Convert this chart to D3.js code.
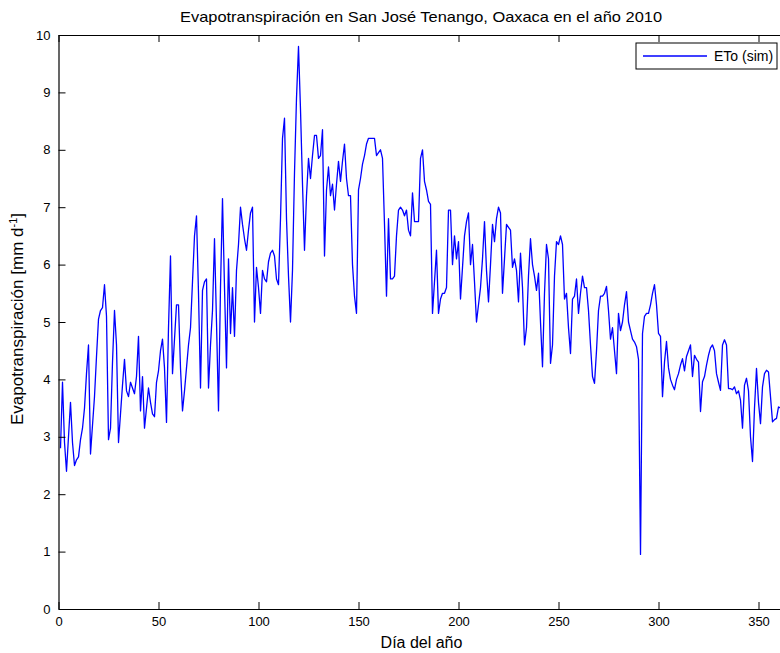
<!DOCTYPE html>
<html>
<head>
<meta charset="utf-8">
<script src="https://cdn.jsdelivr.net/npm/d3@7"></script>
<style>
  html, body { margin: 0; padding: 0; background: #fff; }
  svg { display: block; font-family: "Liberation Sans", Arial, sans-serif; }
</style>
</head>
<body>
<svg id="chart" width="780" height="653"></svg>
<script>
const titleText = "Evapotranspiración en San José Tenango, Oaxaca en el año 2010";
const xLabel = "Día del año";
const yLabelMain = "Evapotranspiración [mm d";
const yLabelSup = "-1";
const seriesName = "ETo (sim)";
const xTicks = [0, 50, 100, 150, 200, 250, 300, 350];
const yTicks = [0, 1, 2, 3, 4, 5, 6, 7, 8, 9, 10];

// Daily simulated ETo values, day 1..365
const eto = [
  2.8, 3.95, 2.9, 2.4, 3.0, 3.6, 2.9, 2.5, 2.6, 2.65,
  2.95, 3.15, 3.5, 4.1, 4.6, 2.7, 3.2, 3.7, 4.4, 5.05,
  5.2, 5.25, 5.65, 5.1, 2.95, 3.15, 4.3, 5.2, 4.6, 2.9,
  3.4, 3.9, 4.35, 3.8, 3.7, 3.95, 3.85, 3.75, 4.05, 4.75,
  3.45, 4.05, 3.15, 3.5, 3.85, 3.6, 3.4, 3.35, 3.95, 4.15,
  4.5, 4.7, 4.2, 3.25, 4.9, 6.15, 4.1, 4.7, 5.3, 5.3,
  4.2, 3.45, 3.8, 4.2, 4.6, 4.9, 5.7, 6.5, 6.85, 5.5,
  3.85, 5.55, 5.7, 5.75, 3.85, 4.6, 5.2, 6.45, 5.0, 3.45,
  5.6, 7.15, 5.6, 4.2, 6.1, 4.8, 5.6, 4.75, 5.9, 6.35,
  7.0, 6.7, 6.45, 6.25, 6.6, 6.9, 7.0, 5.0, 5.95, 5.6,
  5.15, 5.9, 5.75, 5.7, 6.05, 6.2, 6.25, 6.15, 5.75, 5.65,
  6.8, 8.2, 8.55, 6.8, 5.8, 5.0, 5.9, 7.6, 8.9, 9.8,
  8.7, 7.4, 6.25, 7.2, 7.85, 7.5, 7.9, 8.25, 8.25, 7.85,
  7.9, 8.35, 6.15, 7.3, 7.7, 7.2, 7.4, 6.95, 7.4, 7.8,
  7.45, 7.8, 8.1, 7.5, 7.2, 7.2, 6.0, 5.45, 5.15, 7.3,
  7.5, 7.75, 7.9, 8.1, 8.2, 8.2, 8.2, 8.2, 7.9, 7.95,
  8.0, 7.85, 6.7, 5.45, 6.8, 5.75, 5.75, 5.8, 6.5, 6.95,
  7.0, 6.95, 6.85, 6.95, 6.6, 6.5, 7.25, 6.75, 6.75, 6.75,
  7.85, 8.0, 7.45, 7.3, 7.1, 7.05, 5.15, 5.7, 6.25, 5.15,
  5.4, 5.5, 5.5, 5.6, 6.95, 6.95, 6.0, 6.5, 6.1, 6.4,
  5.4, 5.95, 6.5, 6.75, 6.9, 6.0, 6.35, 5.7, 5.0, 5.3,
  5.6, 6.1, 6.75, 5.9, 5.35, 6.0, 6.7, 6.4, 6.8, 7.0,
  6.9, 5.5, 6.1, 6.7, 6.65, 6.6, 5.95, 6.1, 5.9, 5.35,
  6.2, 5.6, 4.6, 4.9, 5.8, 6.45, 6.0, 5.8, 5.55, 5.85,
  5.0, 4.22, 5.5, 6.35, 6.1, 4.28, 4.6, 5.8, 6.4, 6.35,
  6.5, 6.35, 5.4, 5.5, 4.9, 4.45, 5.4, 5.45, 5.75, 5.15,
  5.5, 5.8, 5.6, 5.6, 5.2, 4.6, 4.05, 3.93, 4.5, 5.2,
  5.45, 5.45, 5.5, 5.62, 5.2, 4.7, 4.9, 4.5, 4.1, 5.15,
  4.85, 5.0, 5.3, 5.53, 5.0, 4.85, 4.7, 4.65, 4.57, 4.35,
  0.95, 4.8, 5.1, 5.15, 5.15, 5.3, 5.5, 5.65, 5.3, 4.8,
  4.75, 3.7, 4.3, 4.66, 4.2, 4.0, 3.9, 3.82, 4.0, 4.1,
  4.25, 4.36, 4.15, 4.4, 4.5, 4.6, 4.05, 4.42, 4.35, 4.3,
  3.44, 3.96, 4.05, 4.25, 4.42, 4.55, 4.6, 4.5, 4.1, 3.95,
  3.81, 4.6, 4.69, 4.6, 3.84, 3.84, 3.82, 3.87, 3.75, 3.8,
  3.64, 3.15, 3.9, 4.02, 3.8, 3.0, 2.57, 3.5, 4.19, 3.6,
  3.23, 3.87, 4.1, 4.16, 4.13, 3.7, 3.26, 3.3, 3.32, 3.52,
  3.5, 3.55, 3.6, 3.55, 3.5
];
const days = eto.map((_, i) => i + 1);

const svg = d3.select("#chart");
const margin = { left: 58.5, top: 35, bottom: 609, right: 788.5 };

const x = d3.scaleLinear().domain([0, 365]).range([margin.left, margin.right]);
const y = d3.scaleLinear().domain([0, 10]).range([margin.bottom, margin.top]);

const fontSize = 13;
const labelSize = 16;
const tickLen = 7;

// Data line (clipped to axes)
svg.append("clipPath").attr("id", "plotclip")
  .append("rect")
  .attr("x", margin.left).attr("y", margin.top)
  .attr("width", margin.right - margin.left).attr("height", margin.bottom - margin.top);

const line = d3.line().x((d, i) => x(days[i])).y(d => y(d));
svg.append("path")
  .datum(eto)
  .attr("clip-path", "url(#plotclip)")
  .attr("fill", "none")
  .attr("stroke", "#0000ff")
  .attr("stroke-width", 1.3)
  .attr("stroke-linejoin", "round")
  .attr("d", line);

// Axes (MATLAB style: box with inward ticks)
const axBottom = d3.axisBottom(x).tickValues(xTicks).tickSizeInner(-tickLen).tickSizeOuter(0).tickPadding(8).tickFormat(d3.format("d"));
const axTop = d3.axisTop(x).tickValues(xTicks).tickSizeInner(-tickLen).tickSizeOuter(0).tickFormat("");
const axLeft = d3.axisLeft(y).tickValues(yTicks).tickSizeInner(-tickLen).tickSizeOuter(0).tickPadding(8).tickFormat(d3.format("d"));
const axRight = d3.axisRight(y).tickValues(yTicks).tickSizeInner(-tickLen).tickSizeOuter(0).tickFormat("");

function style(g) {
  g.select(".domain").attr("stroke", "#000").attr("stroke-width", 1.2);
  g.selectAll(".tick line").attr("stroke", "#000").attr("stroke-width", 1);
  g.selectAll(".tick text").attr("fill", "#000").attr("font-size", fontSize)
    .attr("font-family", "Liberation Sans, Arial, sans-serif");
}

svg.append("g").attr("transform", `translate(0,${margin.bottom})`).call(axBottom).call(style);
svg.append("g").attr("transform", `translate(0,${margin.top})`).call(axTop).call(style);
svg.append("g").attr("transform", `translate(${margin.left},0)`).call(axLeft).call(style);
svg.append("g").attr("transform", `translate(${margin.right},0)`).call(axRight).call(style);

// Title
svg.append("text")
  .attr("x", 421).attr("y", 22)
  .attr("text-anchor", "middle")
  .attr("font-size", 15)
  .attr("textLength", 482)
  .attr("lengthAdjust", "spacingAndGlyphs")
  .attr("fill", "#000")
  .text(titleText);

// X label
svg.append("text")
  .attr("x", 421.5).attr("y", 648)
  .attr("text-anchor", "middle")
  .attr("font-size", labelSize)
  .attr("fill", "#000")
  .text(xLabel);

// Y label
const yl = svg.append("text")
  .attr("transform", `translate(23,${319}) rotate(-90)`)
  .attr("text-anchor", "middle")
  .attr("font-size", 17)
  .attr("fill", "#000");
yl.append("tspan").text(yLabelMain);
yl.append("tspan").attr("font-size", 11).attr("dy", -6).text(yLabelSup);
yl.append("tspan").attr("dy", 6).text("]");

// Legend
const lg = svg.append("g");
const lgX = 636, lgY = 43, lgW = 141, lgH = 26;
lg.append("rect")
  .attr("x", lgX).attr("y", lgY).attr("width", lgW).attr("height", lgH)
  .attr("fill", "#fff").attr("stroke", "#000").attr("stroke-width", 1);
lg.append("line")
  .attr("x1", lgX + 7).attr("x2", lgX + 71)
  .attr("y1", lgY + lgH / 2).attr("y2", lgY + lgH / 2)
  .attr("stroke", "#0000ff").attr("stroke-width", 1.3);
lg.append("text")
  .attr("x", lgX + 78).attr("y", lgY + lgH / 2 + 5)
  .attr("font-size", 14).attr("fill", "#000")
  .text(seriesName);
</script>
</body>
</html>
